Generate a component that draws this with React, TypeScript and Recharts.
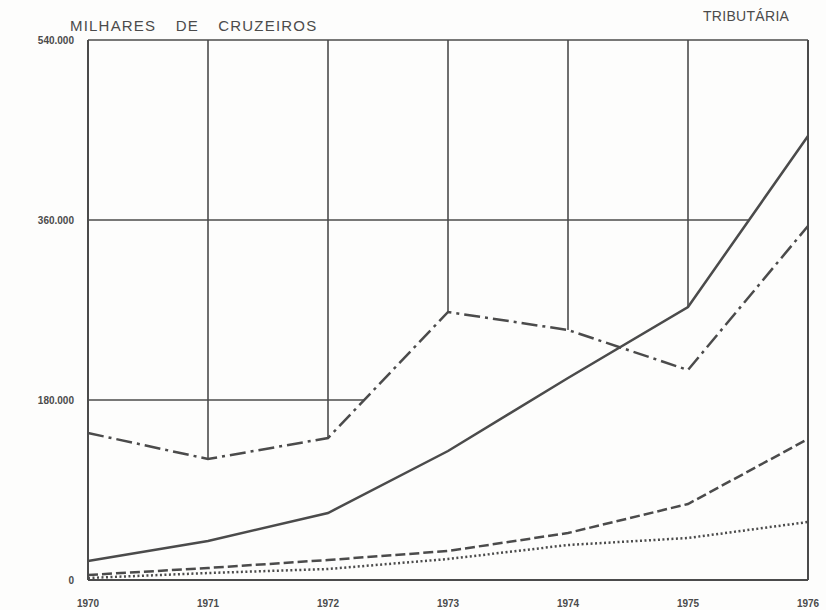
import React from 'react';
import { Line, Area, XAxis, YAxis, CartesianGrid, ReferenceLine, ComposedChart } from 'recharts';

const YEARS = [1970, 1971, 1972, 1973, 1974, 1975, 1976];
// dash-dot series (upper)
const DASH_DOT = [147000, 121000, 142000, 268000, 250000, 210000, 354000];
// solid series
const SOLID = [19000, 39000, 67000, 129000, 202000, 273000, 444000];
// dashed series
const DASHED = [5000, 12000, 20000, 29000, 47000, 76000, 141000];
// dotted series
const DOTTED = [2000, 7000, 11000, 21000, 35000, 42000, 58000];

const Y_TICKS = [0, 180000, 360000, 540000];

const INK = '#4b4b4b';
const PAPER = '#fdfdfc';

const data = YEARS.map((year, i) => ({
  year,
  dashDot: DASH_DOT[i],
  solid: SOLID[i],
  dashed: DASHED[i],
  dotted: DOTTED[i],
  // grid is only visible above the highest curve
  cover: Math.max(DASH_DOT[i], SOLID[i], DASHED[i], DOTTED[i]),
}));

const fmt = (v: number) => (v === 0 ? '0' : v.toLocaleString('de-DE'));

export default function App() {
  return (
    <div style={{ position: 'absolute', left: 0, top: 0, width: 826, height: 610, background: PAPER, fontFamily: '"Liberation Sans", Arial, sans-serif', color: INK }}>
      <div style={{ position: 'absolute', left: 70, top: 17, fontSize: 15, letterSpacing: 1.2, wordSpacing: 14 }}>
        MILHARES DE CRUZEIROS
      </div>
      <div style={{ position: 'absolute', left: 703, top: 8, fontSize: 14, letterSpacing: 0.3 }}>
        TRIBUTÁRIA
      </div>
      <ComposedChart width={826} height={610} data={data} margin={{ top: 40, right: 18, bottom: 2, left: 0 }}>
        <CartesianGrid stroke={INK} strokeWidth={1.6} horizontalValues={Y_TICKS} verticalValues={YEARS} />
        <XAxis
          dataKey="year"
          type="number"
          domain={[1970, 1976]}
          ticks={YEARS}
          height={28}
          tickLine={false}
          axisLine={{ stroke: INK, strokeWidth: 2 }}
          tick={{ fill: INK, fontSize: 10, fontWeight: 'bold' }}
          tickMargin={14}
        />
        <YAxis
          type="number"
          domain={[0, 540000]}
          ticks={Y_TICKS}
          width={88}
          tickLine={false}
          axisLine={{ stroke: INK, strokeWidth: 2 }}
          tickFormatter={fmt}
          tick={{ fill: INK, fontSize: 10, fontWeight: 'bold' }}
          tickMargin={8}
        />
        <Area dataKey="cover" type="linear" fill={PAPER} fillOpacity={1} stroke="none" isAnimationActive={false} />
        <ReferenceLine x={1970} stroke={INK} strokeWidth={2} />
        <ReferenceLine x={1976} stroke={INK} strokeWidth={2} />
        <ReferenceLine y={0} stroke={INK} strokeWidth={2} />
        <Line dataKey="dashDot" type="linear" stroke={INK} strokeWidth={2.5} strokeDasharray="16 5 3 5" dot={false} isAnimationActive={false} />
        <Line dataKey="solid" type="linear" stroke={INK} strokeWidth={2.5} dot={false} isAnimationActive={false} />
        <Line dataKey="dashed" type="linear" stroke={INK} strokeWidth={2.5} strokeDasharray="10 4" dot={false} isAnimationActive={false} />
        <Line dataKey="dotted" type="linear" stroke={INK} strokeWidth={2.5} strokeDasharray="2 2.5" dot={false} isAnimationActive={false} />
      </ComposedChart>
    </div>
  );
}
